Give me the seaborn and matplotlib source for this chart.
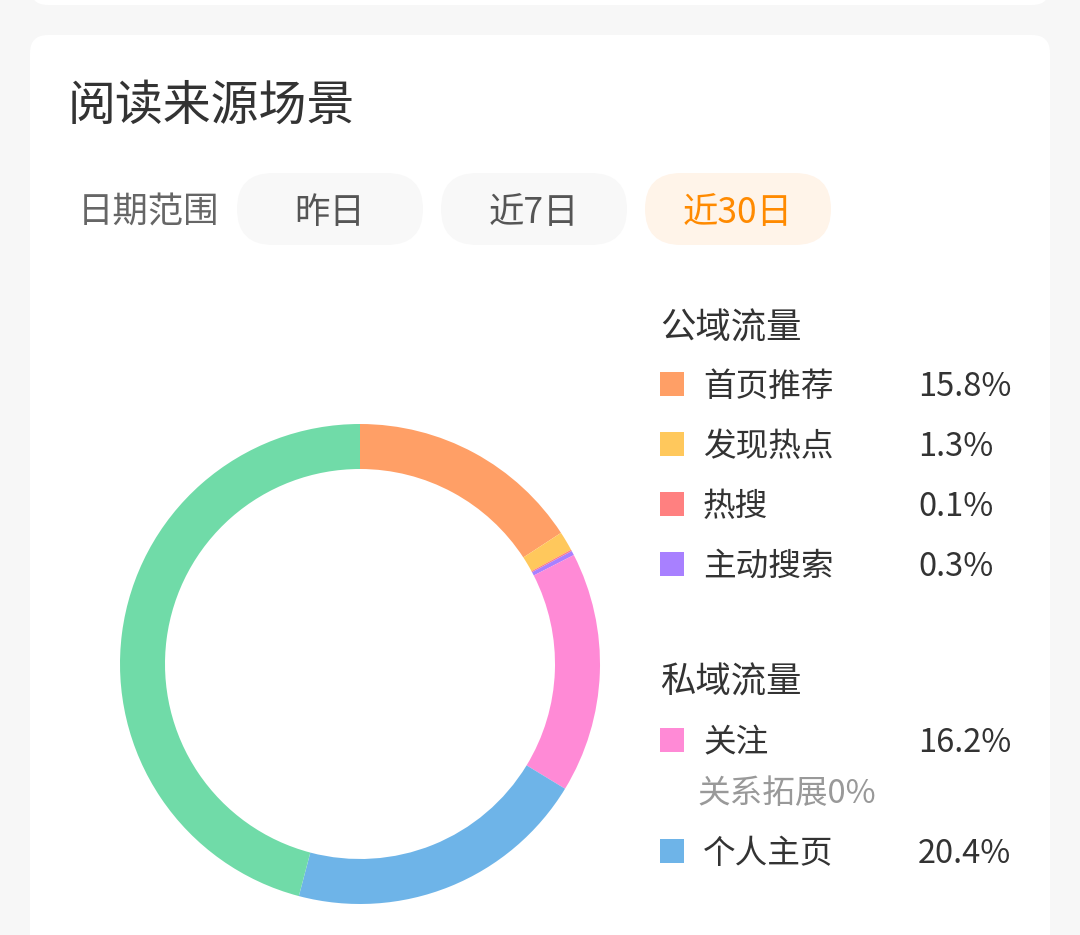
import matplotlib
matplotlib.use("Agg")
import matplotlib.pyplot as plt
import seaborn as sns
from matplotlib.patches import FancyBboxPatch, Rectangle

sns.set_theme(style="white")
plt.rcParams['font.family'] = ['Noto Sans CJK SC', 'DejaVu Sans']

# data
title = "阅读来源场景"
range_label = "日期范围"
range_options = ["昨日", "近7日", "近30日"]
selected_option = "近30日"

public_labels = ["首页推荐", "发现热点", "热搜", "主动搜索"]
public_values = [15.8, 1.3, 0.1, 0.3]
private_labels = ["关注", "个人主页"]
private_values = [16.2, 20.4]
other_label = "其他"
other_value = 45.9
follow_note = "关系拓展0%"

public_colors = ["#FF9F66", "#FFC85C", "#FF8080", "#A880FF"]
private_colors = ["#FF8AD6", "#6EB4E8"]
other_color = "#70DBA8"

fig = plt.figure(figsize=(10.8, 9.35), dpi=100)
fig.patch.set_facecolor("#F7F7F7")

# background layer in pixel coordinates
bg = fig.add_axes([0, 0, 1, 1])
bg.set_xlim(0, 1080)
bg.set_ylim(935, 0)
bg.axis("off")

# cards
bg.add_patch(FancyBboxPatch((30, -60), 1020, 65, boxstyle="round,pad=0,rounding_size=18",
                            fc="white", ec="none"))
bg.add_patch(FancyBboxPatch((30, 35), 1020, 960, boxstyle="round,pad=0,rounding_size=18",
                            fc="white", ec="none"))

bg.text(68, 106, title, fontsize=34.5, color="#333333", va="center", ha="left")
bg.text(78, 213, range_label, fontsize=25.5, color="#666666", va="center", ha="left")

for i, opt in enumerate(range_options):
    x0 = 237 + i * 204
    sel = opt == selected_option
    bg.add_patch(FancyBboxPatch((x0, 173), 186, 72, boxstyle="round,pad=0,rounding_size=36",
                                fc="#FFF4E9" if sel else "#F8F8F8", ec="none"))
    bg.text(x0 + 93, 213, opt, fontsize=25.5, color="#FF8A00" if sel else "#555555",
            va="center", ha="center")

# legend
def legend_rows(labels, values, colors, ys):
    for lab, val, col, y in zip(labels, values, colors, ys):
        bg.add_patch(Rectangle((660, y - 12), 24, 24, fc=col, ec="none"))
        bg.text(703, y + 3, lab, fontsize=23.5, color="#333333", va="center", ha="left")
        bg.text(918, y + 3, f"{val}%", fontsize=23.5, color="#333333", va="center", ha="left")

bg.text(660, 329, "公域流量", fontsize=25.5, color="#333333", va="center", ha="left")
legend_rows(public_labels, public_values, public_colors, [384, 444, 504, 564])
bg.text(660, 683, "私域流量", fontsize=25.5, color="#333333", va="center", ha="left")
legend_rows(private_labels[:1], private_values[:1], private_colors[:1], [740])
bg.text(697, 794, follow_note, fontsize=23.5, color="#999999", va="center", ha="left")
legend_rows(private_labels[1:], private_values[1:], private_colors[1:], [851])

# donut
cx, cy, r = 360, 664, 240
ax = fig.add_axes([(cx - r) / 1080, 1 - (cy + r) / 935, 2 * r / 1080, 2 * r / 935])
vals = public_values + private_values + [other_value]
cols = sns.color_palette(public_colors + private_colors + [other_color])
ax.pie(vals, colors=cols, startangle=90, counterclock=False, radius=1,
       wedgeprops=dict(width=45 / 240, edgecolor="none", linewidth=0))
ax.set_xlim(-1, 1)
ax.set_ylim(-1, 1)
ax.set_aspect("equal")
ax.axis("off")

fig.savefig("out.png", dpi=100, facecolor=fig.get_facecolor())
